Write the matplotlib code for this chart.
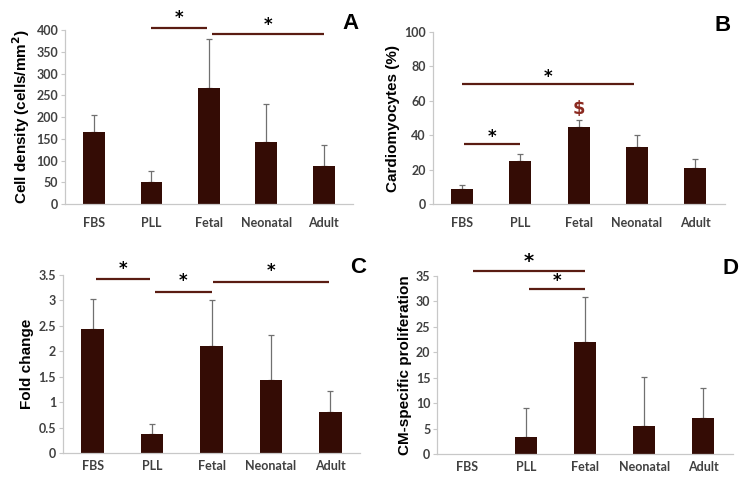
import numpy as np
import matplotlib
matplotlib.use('Agg')
import matplotlib.pyplot as plt

# groups on the x axis
groups = ['FBS', 'PLL', 'Fetal', 'Neonatal', 'Adult']

# A - cell density
dens_mean = [165, 50, 268, 142, 88]
dens_top = [205, 75, 380, 230, 135]
# B - cardiomyocytes %
cm_mean = [9, 25, 45, 33, 21]
cm_top = [11, 29, 49, 40, 26]
# C - fold change
fold_mean = [2.44, 0.38, 2.11, 1.43, 0.80]
fold_top = [3.02, 0.57, 3.00, 2.32, 1.22]
# D - CM-specific proliferation
prol_mean = [0, 3.3, 22.0, 5.6, 7.0]
prol_top = [0, 9.1, 30.8, 15.2, 13.0]

bar_col = '#340c05'
line_col = '#5a1c12'
tick_col = '#404040'

fig = plt.figure(figsize=(7.5, 4.78), dpi=100)

def panel(rect, mean, top, ylim, yticks, ylabel, letter, sig, xpad=9):
    ax = fig.add_axes(rect)
    x = np.arange(len(groups))
    ax.bar(x, mean, width=0.38, color=bar_col, zorder=2)
    err = np.array(top) - np.array(mean)
    m = err > 0
    ax.errorbar(x[m], np.array(mean)[m], yerr=[np.zeros(m.sum()), err[m]],
                fmt='none', ecolor='#707070', elinewidth=0.9, capsize=2.5,
                capthick=0.9, zorder=1)
    ax.set_xlim(-0.5, len(groups) - 0.5)
    ax.set_ylim(*ylim)
    ax.set_yticks(yticks)
    ax.set_yticklabels(['%g' % t for t in yticks])
    ax.set_xticks(x)
    ax.set_xticklabels(groups)
    for s in ['top', 'right']:
        ax.spines[s].set_visible(False)
    for s in ['left', 'bottom']:
        ax.spines[s].set_color('#c8c8c8')
        ax.spines[s].set_linewidth(0.9)
    ax.tick_params(axis='y', length=3, color='#c8c8c8', labelsize=9,
                   labelcolor=tick_col, pad=2)
    ax.tick_params(axis='x', length=0, labelsize=9, labelcolor=tick_col, pad=xpad)
    for t in ax.get_xticklabels() + ax.get_yticklabels():
        t.set_fontweight('bold')
        t.set_family('Lato')
    ax.set_ylabel(ylabel, fontsize=11, fontweight='bold', family='Liberation Sans',
                  labelpad=3)
    ax.text(1.02, 1.04, letter, transform=ax.transAxes, fontsize=16,
            fontweight='bold', family='Liberation Sans', ha='right', va='center')
    # significance bars: (x0, x1, y, star_y, star_size)
    for x0, x1, y, sy, ss in sig:
        ax.plot([x0, x1], [y, y], color=line_col, lw=1.6, clip_on=False,
                solid_capstyle='butt')
        ax.text((x0 + x1) / 2, sy, '*', ha='center', va='center', fontsize=ss,
                fontweight='bold', clip_on=False)
    return ax

axA = panel([0.087, 0.573, 0.383, 0.364], dens_mean, dens_top, (0, 400),
            range(0, 401, 50), 'Cell density (cells/mm$^\\mathbf{2}$)', 'A',
            [(1.0, 1.96, 405, 428, 12), (2.05, 4.0, 391, 412, 12)])
axB = panel([0.577, 0.573, 0.389, 0.360], cm_mean, cm_top, (0, 100),
            range(0, 101, 20), 'Cardiomyocytes (%)', 'B',
            [(0.03, 1.0, 35, 39, 12), (0.0, 2.95, 70, 74, 12)])
axB.text(2, 55, '$', ha='center', va='center', fontsize=13, color='#8b2a20',
         fontweight='bold')
axC = panel([0.084, 0.052, 0.396, 0.373], fold_mean, fold_top, (0, 3.5),
            np.arange(0, 3.51, 0.5), 'Fold change', 'C',
            [(0.05, 0.97, 3.42, 3.62, 12), (1.05, 2.0, 3.17, 3.37, 12),
             (2.03, 3.97, 3.36, 3.57, 12)], xpad=5)
axD = panel([0.583, 0.050, 0.394, 0.373], prol_mean, prol_top, (0, 35),
            range(0, 36, 5), 'CM-specific proliferation', 'D',
            [(0.1, 2.0, 36, 37.8, 14), (1.05, 2.0, 32.5, 34.0, 12)], xpad=5)

fig.savefig('out.png', dpi=100)
